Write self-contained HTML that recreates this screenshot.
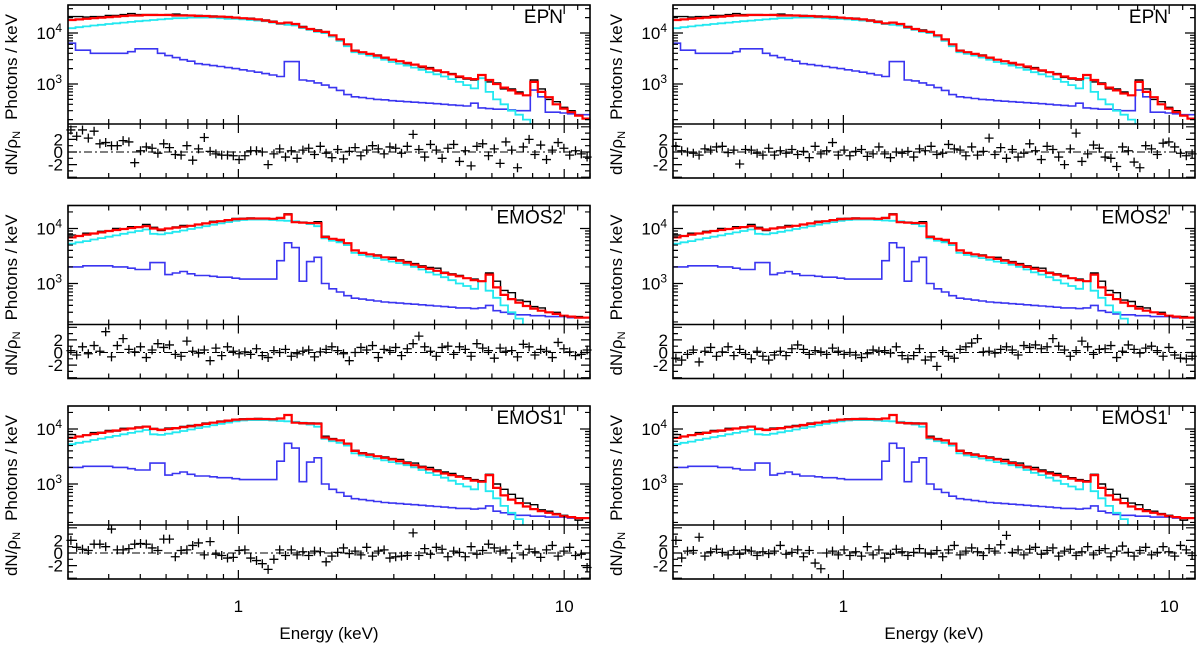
<!DOCTYPE html>
<html><head><meta charset="utf-8"><style>
html,body{margin:0;padding:0;background:#fff;}
svg{display:block;font-family:"Liberation Sans",Arial,sans-serif;}
</style></head><body>
<svg id="chart" width="1200" height="651" viewBox="0 0 1200 651" xmlns="http://www.w3.org/2000/svg"></svg>
<script>
// ---- data (values in units of 10^3 photons/keV, one per energy bin) ----
const NBINS = 70;
const eMin = 0.3, eMax = 12;
const epnData  = [21,21,20.5,21,21,22,22,23,24,23,23,23,22.5,23,23.5,22.5,22,22,21,21.5,21,21,20,19,19.5,18,18,17,15,16,15,13.5,12,11.5,10,9,7.5,6,4.6,4.2,3.8,3.7,3.2,3.0,2.8,2.5,2.4,2.1,2.1,1.8,1.7,1.6,1.35,1.25,1.2,1.5,1.1,1.05,0.8,0.8,0.7,0.6,1.2,0.8,0.5,0.45,0.35,0.3,0.25,0.21];
const epnTotal = [18,18.5,19,19.5,20,20.5,21,21.5,22,22,22.5,22.5,22.5,22.5,22,22,22,21.5,21.5,21,21,20.5,20,19.5,19,18.5,17.5,16.5,15.5,16,15,13,12,11,10.5,9,7.5,6,4.5,4.2,3.9,3.6,3.3,3.0,2.8,2.6,2.4,2.2,2.0,1.85,1.7,1.55,1.4,1.3,1.25,1.5,1.2,1.0,0.85,0.75,0.65,0.6,1.1,0.7,0.55,0.4,0.33,0.28,0.24,0.21];
const epnSource = [12.4,13,13.5,14,14.5,15,15.5,16,16.5,17,17.5,18,18.5,19,19.5,19.5,20,20,20,20,19.5,19,19,18.5,18,17.5,17,16,15,14.5,14,12.5,11.5,10.5,10,8.5,7,5.5,4.2,3.9,3.6,3.3,3.0,2.7,2.5,2.3,2.1,1.9,1.7,1.55,1.4,1.25,1.1,0.95,0.82,1.3,0.7,0.5,0.4,0.3,0.25,0.2,0.16,0.05,0.05,0.05,0.05,0.05,0.05,0.05];
const epnBkg = [6.3,4.6,4.6,4.0,4.0,4.0,4.0,4.0,4.3,4.9,4.9,4.9,4.0,3.6,3.3,3.0,2.8,2.5,2.4,2.3,2.2,2.1,2.0,1.9,1.8,1.7,1.6,1.5,1.4,2.75,2.75,1.2,1.15,1.05,0.95,0.85,0.75,0.62,0.56,0.54,0.52,0.5,0.49,0.47,0.46,0.45,0.44,0.43,0.42,0.41,0.4,0.39,0.38,0.37,0.42,0.34,0.33,0.32,0.32,0.31,0.3,0.3,0.76,0.56,0.28,0.28,0.27,0.26,0.25,0.25];

const mos2Data  = [7.6,7.3,8.2,8.1,8.9,9,10,9.8,10.8,10.6,11.8,10.5,9.2,10,10.7,11.4,11.2,11.8,12.4,13.5,13.6,14.2,15.2,15.3,15.5,15.2,15.1,14.8,15.8,18.5,13,12.8,12.6,13.3,7.2,6.5,6.0,5.4,4.0,3.6,3.4,3.3,3.0,3.0,2.7,2.5,2.3,2.1,1.95,1.9,1.6,1.5,1.4,1.25,1.2,1.1,1.55,1.1,0.75,0.68,0.5,0.47,0.38,0.36,0.3,0.3,0.26,0.24,0.25,0.24];
const mos2Total = [6.9,7.3,7.7,8.1,8.5,9,9.4,9.8,10.2,10.6,11,10,9.6,10,10.4,10.8,11.2,11.8,12.4,13,13.6,14.2,14.8,15,15.2,15.2,15.2,15,15.5,18,13,12.8,12.6,12.5,7.0,6.5,6.2,5.4,4.0,3.6,3.4,3.2,3.0,2.8,2.6,2.4,2.2,2.0,1.85,1.7,1.55,1.45,1.35,1.25,1.15,1.1,1.45,0.85,0.62,0.52,0.45,0.39,0.35,0.32,0.3,0.28,0.26,0.25,0.24,0.24];
const mos2Source = [5.3,5.6,5.9,6.3,6.7,7.1,7.5,8.0,8.5,9.0,9.6,8.0,7.8,8.2,8.7,9.2,9.8,10.4,11.0,11.7,12.4,13.1,13.8,14.3,14.5,14.5,14.5,14.3,14.0,13.8,13.5,13.0,12.0,11.0,6.6,6.0,5.6,5.0,3.6,3.3,3.1,2.9,2.7,2.5,2.35,2.2,2.0,1.8,1.6,1.45,1.3,1.15,1.0,0.9,0.8,1.1,0.74,0.55,0.4,0.3,0.23,0.17,0.1,0.05,0.05,0.05,0.05,0.05,0.05,0.05];
const mos2Bkg = [2.0,2.0,2.1,2.1,2.1,2.1,2.0,2.0,1.9,1.8,1.8,2.4,2.4,1.45,1.55,1.65,1.5,1.4,1.4,1.35,1.3,1.3,1.25,1.2,1.2,1.2,1.2,1.2,2.6,5.5,4.5,1.1,2.5,3.0,1.0,0.8,0.7,0.6,0.54,0.52,0.5,0.48,0.46,0.45,0.44,0.43,0.42,0.41,0.4,0.39,0.38,0.37,0.36,0.36,0.35,0.36,0.4,0.32,0.3,0.28,0.27,0.27,0.26,0.26,0.25,0.25,0.25,0.24,0.24,0.24];

const mos1Data = [7.9,7.2,7.8,8.6,8.7,9.4,9.2,10.3,10.1,10.9,11.2,10.2,9.8,10.4,10.2,11.1,11.6,11.5,12.8,13.1,13.9,14.0,14.6,15.3,15.0,15.6,15.0,15.2,15.4,17.8,13.4,12.5,12.9,12.8,7.4,6.7,6.2,5.5,4.1,3.7,3.5,3.2,3.1,2.9,2.8,2.5,2.4,2.1,2.0,1.8,1.65,1.55,1.4,1.3,1.2,1.15,1.5,1.0,0.8,0.65,0.55,0.45,0.42,0.34,0.32,0.29,0.27,0.25,0.22,0.24];

const resEpnL = [3.5,2.5,3.5,2.2,3.3,1.3,1.5,1.0,1.0,1.8,1.6,-1.7,0.2,0.8,0.6,-0.2,1.3,0.7,-0.4,-0.5,1.0,-1.3,0.5,2.3,0.1,-0.3,-0.5,-0.5,-0.6,-1.2,-0.6,0.2,0.2,0.0,-2.0,-0.3,0.5,-0.8,0.2,-1.0,0.3,0.6,-0.4,0.9,-0.2,-0.9,0.4,-1.1,0.1,0.7,-0.6,0.3,1.0,0.5,-0.3,0.8,0.6,-0.2,0.9,2.8,0.4,-0.8,1.2,0.3,-1.0,0.6,1.2,-1.5,0.2,-2.2,0.9,1.3,-0.6,0.5,-1.8,1.6,0.3,-2.5,0.8,2.0,-0.4,1.1,-1.2,0.3,1.5,0.6,-0.5,0.2,-0.3,-0.8];
const resEpnR = [0.9,0.2,0.0,-0.2,-0.5,0.5,0.3,0.8,0.9,-0.1,0.3,-1.9,0.4,0.3,-0.2,-0.5,0.6,-0.5,0.2,-0.2,0.4,-0.4,0.1,-0.9,0.9,-0.3,0.2,1.5,-0.5,0.3,-0.6,0.1,0.4,-0.7,-0.3,0.8,-0.3,-0.9,0.0,-0.2,0.1,-0.8,0.5,0.2,0.9,-0.4,-0.2,1.2,0.5,0.3,-0.6,0.8,-0.5,0.1,2.2,-0.4,0.7,-1.0,0.4,-0.8,-0.2,1.3,0.2,-1.2,0.9,0.4,-0.8,-2.0,0.5,3.0,-1.5,-0.3,1.1,0.6,-0.8,-1.0,-2.3,0.8,0.2,-1.6,-2.5,1.0,0.5,-0.4,1.4,1.6,0.8,-0.2,-0.6,-0.3];
const resMos2L = [0.3,-0.4,0.9,-0.2,1.1,0.2,3.3,-0.7,1.1,2.2,0.5,0.1,0.9,-0.8,0.4,1.4,0.8,1.2,-0.3,-0.6,1.8,0.2,-0.1,0.4,-1.3,0.7,-0.5,0.9,0.2,-0.2,0.1,-0.3,0.6,-0.5,-0.8,0.3,0.0,0.5,-0.6,-0.2,0.2,0.4,-0.7,0.1,0.5,0.9,0.3,-0.2,-1.3,0.0,0.8,0.4,1.1,-0.8,0.5,0.3,0.8,-0.5,0.6,1.4,2.6,0.9,0.2,-0.6,0.8,1.0,-0.3,0.9,0.5,-0.6,1.4,0.7,0.3,-0.9,0.7,0.2,0.3,-0.7,1.3,0.9,-0.4,0.5,0.2,-0.8,1.6,0.6,0.1,-0.5,-0.3,0.4];
const resMos2R = [-0.9,-1.2,-0.3,0.4,-1.5,0.2,0.8,-0.6,0.1,0.9,-0.5,0.5,-0.3,-1.0,0.2,-0.6,-1.2,-0.4,0.2,-0.5,0.6,1.2,0.5,-0.3,0.3,0.1,-0.3,0.7,0.2,-0.3,0.0,-0.4,-0.8,-0.2,0.4,0.2,0.3,-0.1,0.9,-0.5,-1.0,-0.5,0.6,-1.2,-0.7,-2.2,0.3,-0.6,-0.9,0.5,0.9,1.5,2.2,0.1,0.2,-0.1,0.5,0.9,0.4,-0.4,1.1,0.8,1.2,0.6,0.9,2.2,1.0,0.4,-0.6,0.3,1.8,0.9,-0.3,0.5,0.6,1.1,-0.8,0.2,1.2,0.5,-0.1,0.7,1.0,0.3,-0.6,0.8,-0.4,-0.9,-1.0,-0.6];
const resMos1L = [2.0,0.9,0.6,0.4,1.4,1.4,1.0,3.8,0.5,0.5,0.7,1.4,1.5,1.4,0.8,0.4,2.2,2.2,-0.6,0.4,0.5,1.2,1.6,-0.3,1.8,-0.2,-0.4,-0.8,-0.7,0.4,0.5,-0.8,-1.2,-1.7,-2.6,-1.0,0.5,-0.4,0.5,-0.3,0.2,-0.4,0.3,0.2,-1.4,-0.5,0.1,0.8,-0.1,0.3,-0.3,0.9,-0.5,0.3,0.5,-0.8,-0.6,-0.5,-0.4,3.2,-0.4,0.7,-0.2,0.9,0.6,-0.6,0.3,0.1,-0.6,1.0,-0.2,0.4,1.4,0.8,0.3,0.5,-0.8,1.2,-0.3,0.6,0.2,-0.7,0.5,1.2,-0.5,0.3,0.9,-0.4,-0.2,-2.3];
const resMos1R = [2.0,-0.8,0.3,0.4,2.5,-0.5,0.2,0.6,0.1,-0.3,0.4,-0.2,0.5,0.3,-0.4,0.2,-0.1,0.3,1.2,-0.2,0.1,0.5,-0.6,0.4,-1.6,-2.5,0.0,0.3,-0.3,0.5,-0.4,0.2,-0.5,1.0,-0.3,0.5,-0.8,-0.2,0.6,0.2,-0.4,0.1,0.7,0.0,-0.2,0.4,-0.6,0.5,1.2,-0.3,0.3,0.8,0.2,-0.4,0.7,0.3,1.3,2.8,0.1,0.5,-0.3,0.6,0.9,-0.2,0.4,0.8,-0.5,0.3,0.6,-0.4,0.2,1.0,-0.3,0.4,0.7,-0.6,0.3,1.1,0.1,-0.5,0.4,0.9,-0.3,0.1,1.0,0.2,-0.5,1.2,0.5,-0.4];

const xTickLabels = ["1","10"];
const xTickValues = [1,10];

// ---- rendering ----
const svg = document.getElementById('chart');
const NS = 'http://www.w3.org/2000/svg';
function mk(tag, attrs, parent){
  const el = document.createElementNS(NS, tag);
  for (const k in attrs) el.setAttribute(k, attrs[k]);
  (parent||svg).appendChild(el);
  return el;
}
const cols = [{x0:68,x1:590,id:'left'},{x0:673,x1:1195,id:'right'}];
const rows = [
  {top:5,   name:'EPN',   y4:28, dec:51, data:epnData, total:epnTotal, src:epnSource, bkg:epnBkg, res:[resEpnL,resEpnR]},
  {top:205.5,name:'EMOS2',y4:23, dec:55, data:mos2Data, total:mos2Total, src:mos2Source, bkg:mos2Bkg, res:[resMos2L,resMos2R]},
  {top:406, name:'EMOS1', y4:23, dec:55, data:mos1Data, total:mos2Total, src:mos2Source, bkg:mos2Bkg, res:[resMos1L,resMos1R]}
];
const lmin = Math.log10(eMin), lmax = Math.log10(eMax);
function edge(k){ return Math.pow(10, lmin + (lmax-lmin)*k/NBINS); }

cols.forEach((c, ci) => {
  const xS = E => c.x0 + (Math.log10(E)-lmin)/(lmax-lmin)*(c.x1-c.x0);
  rows.forEach((r, ri) => {
    const top=r.top, mid=top+119, bot=top+173;
    const yS = v => top + r.y4 - r.dec*(Math.log10(v*1000)-4);
    const rS = v => top + 147 - 6.3*v;
    const g = mk('g', {});
    
    
    const cid = 'clip'+ci+ri;
    const cp = mk('clipPath', {id:cid}, g);
    mk('rect', {x:c.x0, y:top, width:c.x1-c.x0, height:mid-top}, cp);
    const series = [['data',r.data,'#000',1.4],['background-model',r.bkg,'#3a35f0',1.6],['source-model',r.src,'#22e8f0',1.8],['total-model',r.total,'#ff0000',2.2]];
    series.forEach(([nm,arr,col,w]) => {
      let d='';
      arr.forEach((v,k)=>{
        const xa=xS(edge(k)), xb=xS(edge(k+1)), y=yS(v);
        d += (k===0?'M':'L')+xa.toFixed(1)+','+y.toFixed(1)+'L'+xb.toFixed(1)+','+y.toFixed(1);
      });
      const p = mk('path', {d:d, fill:'none', stroke:col, 'stroke-width':w, 'clip-path':'url(#'+cid+')'}, g);
      
      
    });
    // zero line
    const zl = mk('line', {x1:c.x0, x2:c.x1, y1:rS(0), y2:rS(0), stroke:'#000','stroke-width':1,'stroke-dasharray':'8,3,2,3'}, g);
    
    
    // residuals
    const res = r.res[ci];
    res.forEach((v,i)=>{
      const E = Math.pow(10, lmin + (lmax-lmin)*(i+0.5)/res.length);
      const x = xS(E), y = rS(v);
      const m = mk('path', {d:'M'+(x-4.5)+','+y+'h9M'+x+','+(y-4.5)+'v9', stroke:'#000','stroke-width':1.3}, g);
      
      
    });
    // frames
    const f1 = mk('rect', {x:c.x0, y:top, width:c.x1-c.x0, height:bot-top, fill:'none', stroke:'#000','stroke-width':1.6}, g);
    
    
    mk('line', {x1:c.x0, x2:c.x1, y1:mid, y2:mid, stroke:'#000','stroke-width':1.6}, g);
    // x ticks
    let td='';
    const xt=[0.3,0.4,0.5,0.6,0.7,0.8,0.9,1,2,3,4,5,6,7,8,9,10,11,12];
    xt.forEach(E=>{
      const x=xS(E); const maj=(E===1||E===10); const L=maj?9:5;
      td+='M'+x+','+top+'v'+L+'M'+x+','+mid+'v-'+L+'M'+x+','+mid+'v'+L+'M'+x+','+bot+'v-'+L;
    });
    // y ticks spectrum
    for (let dexp=2; dexp<=4; dexp++) for (let m=1;m<=9;m++){
      const v=m*Math.pow(10,dexp)/1000; const y=yS(v);
      if (y<top||y>mid) continue;
      const L=(m===1)?10:5;
      td+='M'+c.x0+','+y+'h'+L+'M'+c.x1+','+y+'h-'+L;
    }
    for (let v=-4; v<=4; v++){
      const y=rS(v); if (y<mid||y>bot) continue;
      const L=(v%2===0)?9:5;
      td+='M'+c.x0+','+y+'h'+L+'M'+c.x1+','+y+'h-'+L;
    }
    mk('path',{d:td, stroke:'#000','stroke-width':1.2, fill:'none'}, g);
    // y tick labels
    [[3,'3'],[4,'4']].forEach(([e,s])=>{
      const y=yS(Math.pow(10,e)/1000);
      const t=mk('text',{x:c.x0-6, y:y+6, 'font-size':17, 'text-anchor':'end'}, g);
      
      
      t.innerHTML='10<tspan dy="-7" font-size="12">'+s+'</tspan>';
    });
    [[2,'2'],[0,'0'],[-2,'-2']].forEach(([v,s])=>{
      const t=mk('text',{x:c.x0-5, y:rS(v)+6, 'font-size':17, 'text-anchor':'end'}, g);
      
      
      t.textContent=s;
    });
    const yl=mk('text',{transform:'translate('+(c.x0-51)+','+(top+62)+') rotate(-90)', 'font-size':17,'text-anchor':'middle'}, g);
    
    
    yl.textContent='Photons / keV';
    const rl=mk('text',{transform:'translate('+(c.x0-51)+','+(top+148)+') rotate(-90)', 'font-size':17,'text-anchor':'middle'}, g);
    
    
    rl.innerHTML='dN/ρ<tspan font-size="11" dy="3">N</tspan>';
    const tt=mk('text',{x:c.x1-27, y:top+18, 'font-size':19,'text-anchor':'end'}, g);
    
    
    tt.textContent=r.name;
  });
  xTickValues.forEach((E,i)=>{
    const t=mk('text',{x:xS(E), y:612, 'font-size':17,'text-anchor':'middle'});
    
    
    t.textContent=xTickLabels[i];
  });
  const xl=mk('text',{x:c.x0+261, y:639, 'font-size':17,'text-anchor':'middle'});
  
  
  xl.textContent='Energy (keV)';
});
</script>
</body></html>
